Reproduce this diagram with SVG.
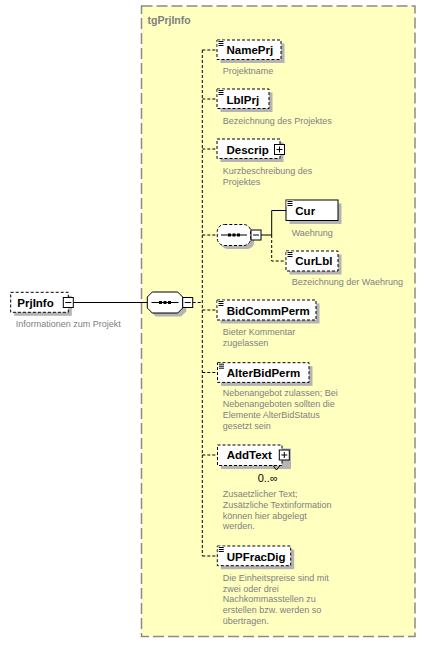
<svg xmlns="http://www.w3.org/2000/svg" width="426" height="646" viewBox="0 0 426 646">
<style>
.grp{fill:#ffffc0;stroke:#8a8a8a;stroke-width:1.5;stroke-dasharray:11,4}
.ttl{font-family:"Liberation Sans",Arial,sans-serif;font-size:10.5px;font-weight:bold;fill:#808080}
.box{fill:#fff;stroke:#000;stroke-width:1}
.opt{stroke-dasharray:3,2}
.sh{fill:#b4b4b4}
.nm{font-family:"Liberation Sans",Arial,sans-serif;font-size:11.5px;font-weight:bold;fill:#000}
.ds{font-family:"Liberation Sans",Arial,sans-serif;font-size:9px;fill:#808080}
.ln{fill:none;stroke:#000;stroke-width:1}
.dl{fill:none;stroke:#000;stroke-width:1;stroke-dasharray:3,2}
.ic{stroke:#000;stroke-width:1}
.oc{font-family:"Liberation Sans",Arial,sans-serif;font-size:11px;fill:#000}
</style>
<defs>
<g id="minus"><rect x="0" y="0" width="10" height="10" class="box"/><line x1="2" y1="5" x2="8" y2="5" class="ic"/></g>
<g id="plus"><rect x="0" y="0" width="10" height="10" class="box"/><line x1="2" y1="5" x2="8" y2="5" class="ic"/><line x1="5" y1="2" x2="5" y2="8" class="ic"/></g>
<g id="elic"><rect x="-0.5" y="-0.5" width="7" height="6" fill="#fff"/><line x1="0.5" y1="0.5" x2="5.5" y2="0.5" class="ic"/><line x1="0.5" y1="2.5" x2="5.5" y2="2.5" class="ic"/><line x1="0.5" y1="4.5" x2="5.5" y2="4.5" class="ic"/></g>
</defs>

<g id="tgPrjInfo">
<rect class="grp" x="141.5" y="6" width="273.5" height="630.5"/>
<text class="ttl" x="147.5" y="23.5">tgPrjInfo</text>
</g>

<g id="connectors">
<line class="ln" x1="73.3" y1="302.5" x2="147.3" y2="302.5"/>
<line class="dl" x1="192.7" y1="302.5" x2="202.3" y2="302.5"/>
<line class="dl" x1="202.3" y1="50" x2="202.3" y2="556"/>
<line class="dl" x1="202.3" y1="50" x2="217" y2="50"/>
<line class="dl" x1="202.3" y1="99" x2="217" y2="99"/>
<line class="dl" x1="202.3" y1="149" x2="217" y2="149"/>
<line class="dl" x1="202.3" y1="235" x2="217.3" y2="235"/>
<line class="dl" x1="202.3" y1="310" x2="217" y2="310"/>
<line class="dl" x1="202.3" y1="372.5" x2="217.5" y2="372.5"/>
<line class="dl" x1="202.3" y1="455" x2="217.5" y2="455"/>
<line class="dl" x1="202.3" y1="556" x2="217.3" y2="556"/>
<polyline class="ln" points="261,235 271.7,235 271.7,210.5 286,210.5"/>
<polyline class="dl" points="271.7,235 271.7,261 286,261"/>
</g>

<g id="PrjInfo">
<rect class="sh" x="14.2" y="295.8" width="57.6" height="20"/>
<rect class="box opt" x="10.7" y="292.3" width="57.6" height="20"/>
<text class="nm" x="17.3" y="307">PrjInfo</text>
<use href="#minus" x="63.3" y="297.5"/>
<text class="ds" x="15.7" y="327">Informationen zum Projekt</text>
</g>

<g id="seqMain">
<polygon class="sh" points="155.8,295.5 181.2,295.5 186.2,300.5 186.2,311.5 181.2,316.5 155.8,316.5 150.8,311.5 150.8,300.5"/>
<polygon class="box" points="152.3,292 177.7,292 182.7,297 182.7,308 177.7,313 152.3,313 147.3,308 147.3,297"/>
<line class="ic" x1="151.5" y1="302.5" x2="178.5" y2="302.5"/>
<rect x="159" y="301" width="3" height="3" fill="#000"/>
<rect x="163.5" y="301" width="3" height="3" fill="#000"/>
<rect x="168" y="301" width="3" height="3" fill="#000"/>
<use href="#minus" x="182.7" y="297.5"/>
</g>

<g id="NamePrj">
<rect class="sh" x="220.5" y="43.5" width="64" height="19.5"/>
<rect class="box opt" x="217" y="40" width="64" height="19.5"/>
<use href="#elic" x="218" y="41"/>
<text class="nm" x="226.5" y="54">NamePrj</text>
<text class="ds" x="222.7" y="74">Projektname</text>
</g>

<g id="LblPrj">
<rect class="sh" x="220.5" y="92.5" width="52" height="19.5"/>
<rect class="box opt" x="217" y="89" width="52" height="19.5"/>
<use href="#elic" x="218" y="90"/>
<text class="nm" x="226.5" y="104">LblPrj</text>
<text class="ds" x="222.7" y="124">Bezeichnung des Projektes</text>
</g>

<g id="Descrip">
<rect class="sh" x="220.5" y="142.5" width="63" height="19.5"/>
<rect class="box opt" x="217" y="139" width="63" height="19.5"/>
<text class="nm" x="226.5" y="154">Descrip</text>
<use href="#plus" x="274.5" y="144.5"/>
<text class="ds" x="222.7" y="174">Kurzbeschreibung des</text>
<text class="ds" x="222.7" y="185">Projektes</text>
</g>

<g id="seqCur">
<rect class="sh" x="220.8" y="228" width="33.4" height="21" rx="7"/>
<rect class="box opt" x="217.3" y="224.5" width="33.4" height="21" rx="7"/>
<line class="ic" x1="221" y1="235" x2="247" y2="235"/>
<rect x="228" y="233.5" width="3" height="3" fill="#000"/>
<rect x="232.5" y="233.5" width="3" height="3" fill="#000"/>
<rect x="237" y="233.5" width="3" height="3" fill="#000"/>
<use href="#minus" x="251" y="230"/>
</g>

<g id="Cur">
<rect class="sh" x="289.5" y="203.5" width="52" height="20.5"/>
<rect class="box" x="286" y="200" width="52" height="20.5"/>
<use href="#elic" x="287" y="201"/>
<text class="nm" x="295.3" y="214.5">Cur</text>
<text class="ds" x="291.7" y="235.5">Waehrung</text>
</g>

<g id="CurLbl">
<rect class="sh" x="289.5" y="254.5" width="52" height="20"/>
<rect class="box opt" x="286" y="251" width="52" height="20"/>
<use href="#elic" x="287" y="252"/>
<text class="nm" x="295.3" y="265">CurLbl</text>
<text class="ds" x="291.7" y="285">Bezeichnung der Waehrung</text>
</g>

<g id="BidCommPerm">
<rect class="sh" x="220.5" y="303.5" width="99" height="20"/>
<rect class="box opt" x="217" y="300" width="99" height="20"/>
<use href="#elic" x="218" y="301"/>
<text class="nm" x="226.7" y="315">BidCommPerm</text>
<text class="ds" x="222.7" y="335">Bieter Kommentar</text>
<text class="ds" x="222.7" y="346">zugelassen</text>
</g>

<g id="AlterBidPerm">
<rect class="sh" x="221" y="366.2" width="91.5" height="19.7"/>
<rect class="box opt" x="217.5" y="362.7" width="91.5" height="19.7"/>
<use href="#elic" x="218.5" y="363.7"/>
<text class="nm" x="226.7" y="377">AlterBidPerm</text>
<text class="ds" x="222.7" y="396">Nebenangebot zulassen; Bei</text>
<text class="ds" x="222.7" y="407">Nebenangeboten sollten die</text>
<text class="ds" x="222.7" y="418">Elemente AlterBidStatus</text>
<text class="ds" x="222.7" y="429">gesetzt sein</text>
</g>

<g id="AddText">
<rect class="sh" x="221" y="448.5" width="70" height="20.5"/>
<rect class="box opt" x="217.5" y="445" width="64.5" height="20.5"/>
<text class="nm" x="226.7" y="459">AddText</text>
<use href="#plus" x="279.3" y="450"/>
<polyline class="ln" points="273,465.5 276.5,470 280,465.5" fill="#fff"/>
<text class="oc" x="257.7" y="482">0..∞</text>
<text class="ds" x="222.7" y="497">Zusaetzlicher Text;</text>
<text class="ds" x="222.7" y="507.8">Zusätzliche Textinformation</text>
<text class="ds" x="222.7" y="518.6">können hier abgelegt</text>
<text class="ds" x="222.7" y="529.4">werden.</text>
</g>

<g id="UPFracDig">
<rect class="sh" x="220.8" y="549.5" width="73.4" height="19.7"/>
<rect class="box opt" x="217.3" y="546" width="73.4" height="19.7"/>
<use href="#elic" x="218.3" y="547"/>
<text class="nm" x="226.7" y="560.5">UPFracDig</text>
<text class="ds" x="222.7" y="581">Die Einheitspreise sind mit</text>
<text class="ds" x="222.7" y="591.7">zwei oder drei</text>
<text class="ds" x="222.7" y="602.4">Nachkommasstellen zu</text>
<text class="ds" x="222.7" y="613.1">erstellen bzw. werden so</text>
<text class="ds" x="222.7" y="623.8">übertragen.</text>
</g>
</svg>
